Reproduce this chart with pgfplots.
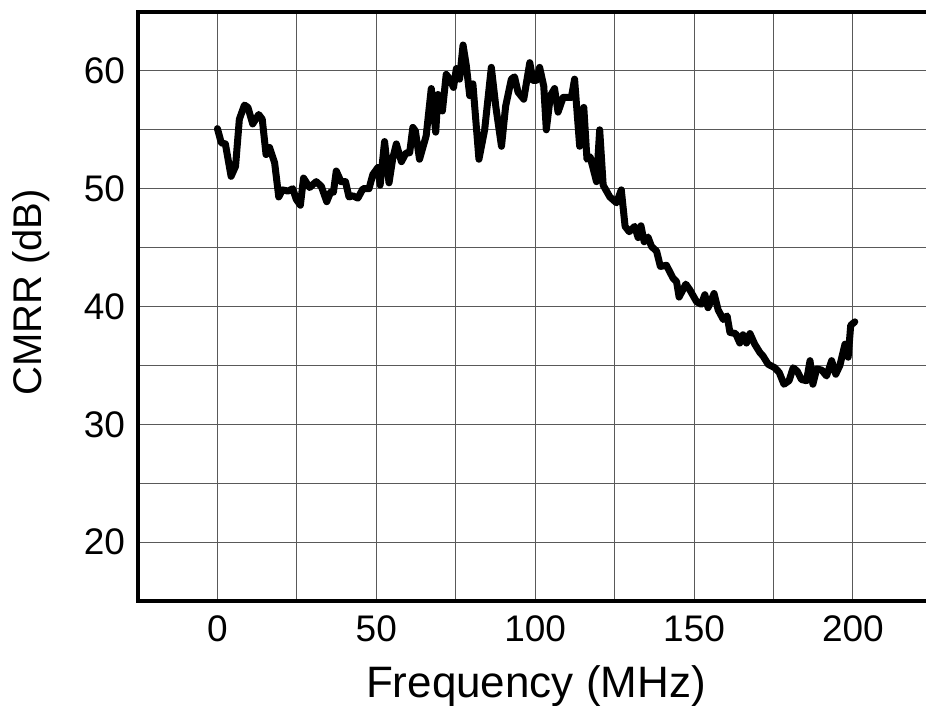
\documentclass[border=0pt]{standalone}
\usepackage{fontspec}
\setmainfont{Liberation Sans}
\usepackage{pgfplots}
\pgfplotsset{compat=1.18}
\begin{document}
\begin{tikzpicture}
\begin{axis}[
  scale only axis,
  width=394pt, height=294.5pt,
  xmin=-25, xmax=223, ymin=15, ymax=65,
  xtick={0,50,...,200}, minor xtick={25,75,...,175},
  ytick={20,30,...,60}, minor ytick={25,35,...,55},
  grid=both,
  major grid style={black!65, line width=0.5pt},
  minor grid style={black!65, line width=0.5pt},
  major tick length=0pt, minor tick length=0pt,
  axis line style={draw=none},
  /pgf/number format/assume math mode=true,
  tick label style={font=\fontsize{18.5}{22}\selectfont},
  xticklabel style={yshift=-4pt},
  yticklabel style={xshift=-3pt},
  xlabel={Frequency (MHz)},
  ylabel={CMRR (dB)},
  xlabel style={font=\fontsize{22}{26}\selectfont, at={(rel axis cs:0.505,0)}, anchor=base, yshift=-48pt},
  ylabel style={font=\fontsize{20}{24}\selectfont, at={(rel axis cs:0,0.524)}, anchor=base, yshift=48pt},
  clip=false,
]
\addplot[black, line width=3.5pt, line join=round, line cap=round] coordinates {
(0,55.1)(1.2,53.9)(2.5,53.8)(4.3,51.05)(5.7,51.9)(6.9,55.9)(8.5,57.1)(9.6,56.9)
(11.1,55.5)(13,56.3)(14.1,55.9)(15.3,52.9)(16.4,53.5)(18,52.2)(19.3,49.3)(20.4,49.9)
(22.2,49.8)(23.7,50.0)(24.8,49.1)(26.1,48.6)(27.1,50.9)(29,50.1)(31.1,50.6)(32.7,50.2)
(34.4,48.9)(35.6,49.7)(36.5,49.7)(37.4,51.5)(38.9,50.6)(40.3,50.6)(41.4,49.3)(42.6,49.4)
(44.2,49.2)(45.8,50.0)(47.7,50.0)(48.9,51.2)(50.5,51.8)(51.2,50.3)(52.6,54.0)(54.0,50.5)
(55.2,52.6)(56.3,53.8)(57.9,52.3)(59.4,53.05)(60.5,53.05)(61.5,55.2)(62.3,54.9)(63.6,52.5)
(65.7,54.5)(67.3,58.5)(68.7,54.8)(69.4,58.0)(70.8,56.6)(72.0,59.7)(73.1,59.3)(74.3,58.6)
(75.2,60.2)(76.2,59.3)(77.3,62.2)(78.3,60.5)(79.4,57.9)(80.4,58.9)(82.3,52.5)(84.1,55.0)
(86.2,60.3)(87.6,57.0)(89.4,53.6)(90.7,57.0)(92.5,59.3)(93.5,59.5)(94.6,58.2)(96.4,57.6)
(98.3,60.7)(99.3,59.2)(100.4,59.2)(101.4,60.3)(102.7,58.7)(103.5,55.0)(104.8,57.9)(106.1,58.5)
(107.2,56.5)(108.8,57.75)(111.4,57.75)(112.4,59.3)(114.0,53.6)(115.3,56.9)(116.3,52.5)(117.3,52.7)
(119.3,50.6)(120.3,55.0)(121.4,50.3)(123.5,49.3)(125.6,48.8)(127.1,49.9)(128.3,46.8)(129.6,46.35)
(131.3,46.8)(132.4,45.85)(133.3,46.85)(134.3,45.5)(135.5,45.9)(136.6,45.1)(138.2,44.7)(139.4,43.4)
(141.3,43.5)(143.4,42.4)(144.5,42.1)(145.3,40.8)(147.4,41.9)(148.7,41.4)(150.8,40.4)(152.3,40.2)
(153.4,41.0)(154.4,39.9)(156.3,41.1)(157.6,39.7)(159.2,38.9)(160.4,39.2)(161.3,37.8)(163.1,37.7)
(164.4,36.9)(165.4,37.6)(166.5,36.9)(167.6,37.7)(169.1,36.8)(170.7,36.1)(171.7,35.8)(173.3,35.1)
(175.4,34.8)(176.8,34.4)(178.3,33.4)(179.9,33.7)(181.2,34.8)(182.5,34.5)(183.8,33.8)(185.4,33.7)
(186.5,35.4)(187.4,33.4)(188.6,34.7)(190.2,34.6)(191.7,34.1)(193.3,35.4)(194.6,34.25)(195.9,35.0)
(197.5,36.8)(198.5,35.7)(199.3,38.4)(200.6,38.7)
};
\draw[black, line width=2pt, line cap=rect] (rel axis cs:1.02,1) -- (rel axis cs:0,1) -- (rel axis cs:0,0) -- (rel axis cs:1.02,0);
\end{axis}
\pgfresetboundingbox
\path[use as bounding box] (-69pt,-52.5pt) rectangle (394pt,300.5pt);
\end{tikzpicture}
\end{document}
